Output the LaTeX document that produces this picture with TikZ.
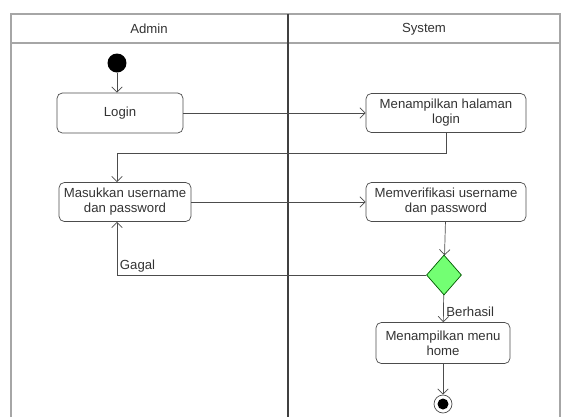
\documentclass[tikz,border=0pt]{standalone}
\usepackage{fontspec}
\setmainfont{Liberation Sans}
\usetikzlibrary{arrows.meta,shapes.geometric}

\tikzset{
  act/.style={draw=black!70, rounded corners=3pt, align=center, text=black!80,
    font=\fontsize{7.5}{8.5}\selectfont, inner sep=1pt},
  flow/.style={draw=black!70, -{Straight Barb[length=3pt,width=6pt]}},
  lane/.style={draw=black!35, line width=1pt},
  lbl/.style={text=black!80, font=\fontsize{7.5}{8.5}\selectfont, inner sep=1.5pt},
}

\begin{document}
\begin{tikzpicture}[x=0.02cm,y=-0.02cm]
  \useasboundingbox (0,0) rectangle (561,417);
  % swimlanes
  \draw[lane] (11,417) -- (11,14) -- (560,14) -- (560,417);
  \draw[lane] (11,43) -- (560,43);
  \draw[black!75, line width=1.3pt] (288,14) -- (288,417);
  \node[lbl] (admin) at (149,29) {Admin};
  \node[lbl] (system) at (424,29) {System};
  % Admin
  \node[circle, fill=black, minimum size=0.38cm, inner sep=0pt] (start) at (117,63) {};
  \node[act, minimum width=2.52cm, minimum height=0.8cm] (login) at (120,113) {Login};
  \node[act, minimum width=2.64cm, minimum height=0.78cm] (masuk) at (125,202) {Masukkan username\\dan password};
  % System
  \node[act, minimum width=3.2cm, minimum height=0.78cm] (halaman) at (446,113) {Menampilkan halaman\\login};
  \node[act, minimum width=3.2cm, minimum height=0.78cm] (verif) at (446,202) {Memverifikasi username\\dan password};
  \node[diamond, draw=green!35!black, fill=green!55, minimum width=0.7cm, minimum height=0.8cm, inner sep=0pt] (cek) at (444,275) {};
  \node[act, minimum width=2.68cm, minimum height=0.82cm] (home) at (443,343) {Menampilkan menu\\home};
  \node[circle, draw=black!70, fill=white, minimum size=0.36cm, inner sep=0pt] (end) at (443,404) {};
  \fill (end.center) circle (0.11cm);
  % flows
  \draw[flow] (start) -- (start |- login.north);
  \draw[flow] (login) -- (halaman);
  \draw[flow] (halaman.south) -- ++(0,20) -| (start |- masuk.north);
  \draw[flow] (masuk) -- (verif);
  \draw[flow] (verif) -- (cek);
  \draw[flow] (cek.west) -| node[lbl, pos=0.5, anchor=south west] {Gagal} (start |- masuk.south);
  \draw[flow] (cek) -- node[lbl, pos=0.6, anchor=west] {Berhasil} (home);
  \draw[flow] (home) -- (end);
\end{tikzpicture}
\end{document}
